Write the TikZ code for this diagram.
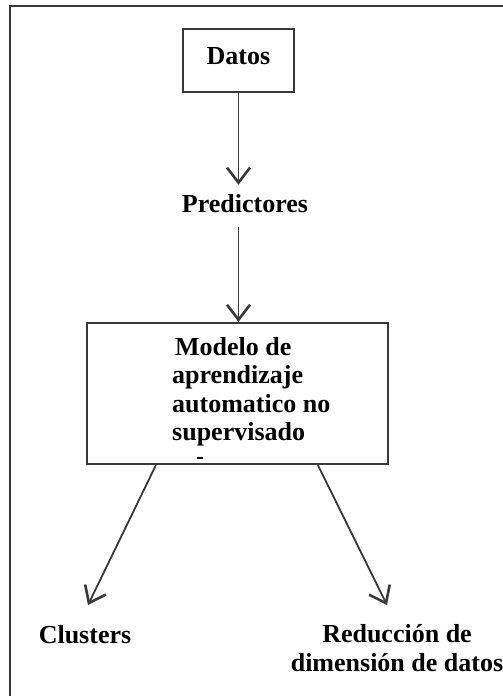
\documentclass[tikz,border=0pt]{standalone}
\usepackage{fontspec}
\setmainfont{Liberation Serif}
\usetikzlibrary{arrows.meta}
\begin{document}
\begin{tikzpicture}[x=1pt,y=-1pt,
  ink/.style={draw=black!78},
  boxed/.style={ink, line width=2.2pt, inner sep=0pt},
  label/.style={font=\fontsize{26}{28.5}\selectfont\bfseries, inner sep=0pt, text=black},
  flow/.style={ink, line width=1.8pt, -{Straight Barb[length=15pt,width=23pt,line width=2.6pt]}}]
  \useasboundingbox (0,0) rectangle (503,696);
  % outer frame (top and left edges)
  \draw[ink, line width=2.2pt] (10,696) -- (10,6) -- (503,6);

  % top box
  \node[boxed, label, minimum width=111pt, minimum height=63pt,
        text height=17pt, text depth=10pt] (datos) at (238.5,60.5) {Datos};
  % intermediate label
  \node[label, anchor=base] (pred) at (245,212) {Predictores};
  % model box and its text
  \node[boxed, minimum width=301pt, minimum height=141pt] (model) at (237.5,393.5) {};
  \node[label, align=left, anchor=north west] (mtext) at (172,337)
    {\hspace*{3pt}Modelo de\\aprendizaje\\automatico no\\supervisado};
  \draw[black, line width=1.4pt] (197,458) -- (203,458);

  % outputs
  \node[label, anchor=base] (clu) at (85,643) {Clusters};
  \node[label, align=center, anchor=north] (red) at (397,624.5)
    {Reducción de\\dimensión de datos};

  \coordinate (ltip) at (88,605);
  \coordinate (rtip) at (387,605);

  % connectors
  \draw[flow] (datos.south) -- ([yshift=9pt]datos.south |- pred.north);
  \draw[flow] ([yshift=-15pt]datos.south |- pred.south) -- (datos.south |- model.north);
  \draw[flow] ([xshift=70pt]model.south west) -- (ltip);
  \draw[flow] ([xshift=232pt]model.south west) -- (rtip);
\end{tikzpicture}
\end{document}
